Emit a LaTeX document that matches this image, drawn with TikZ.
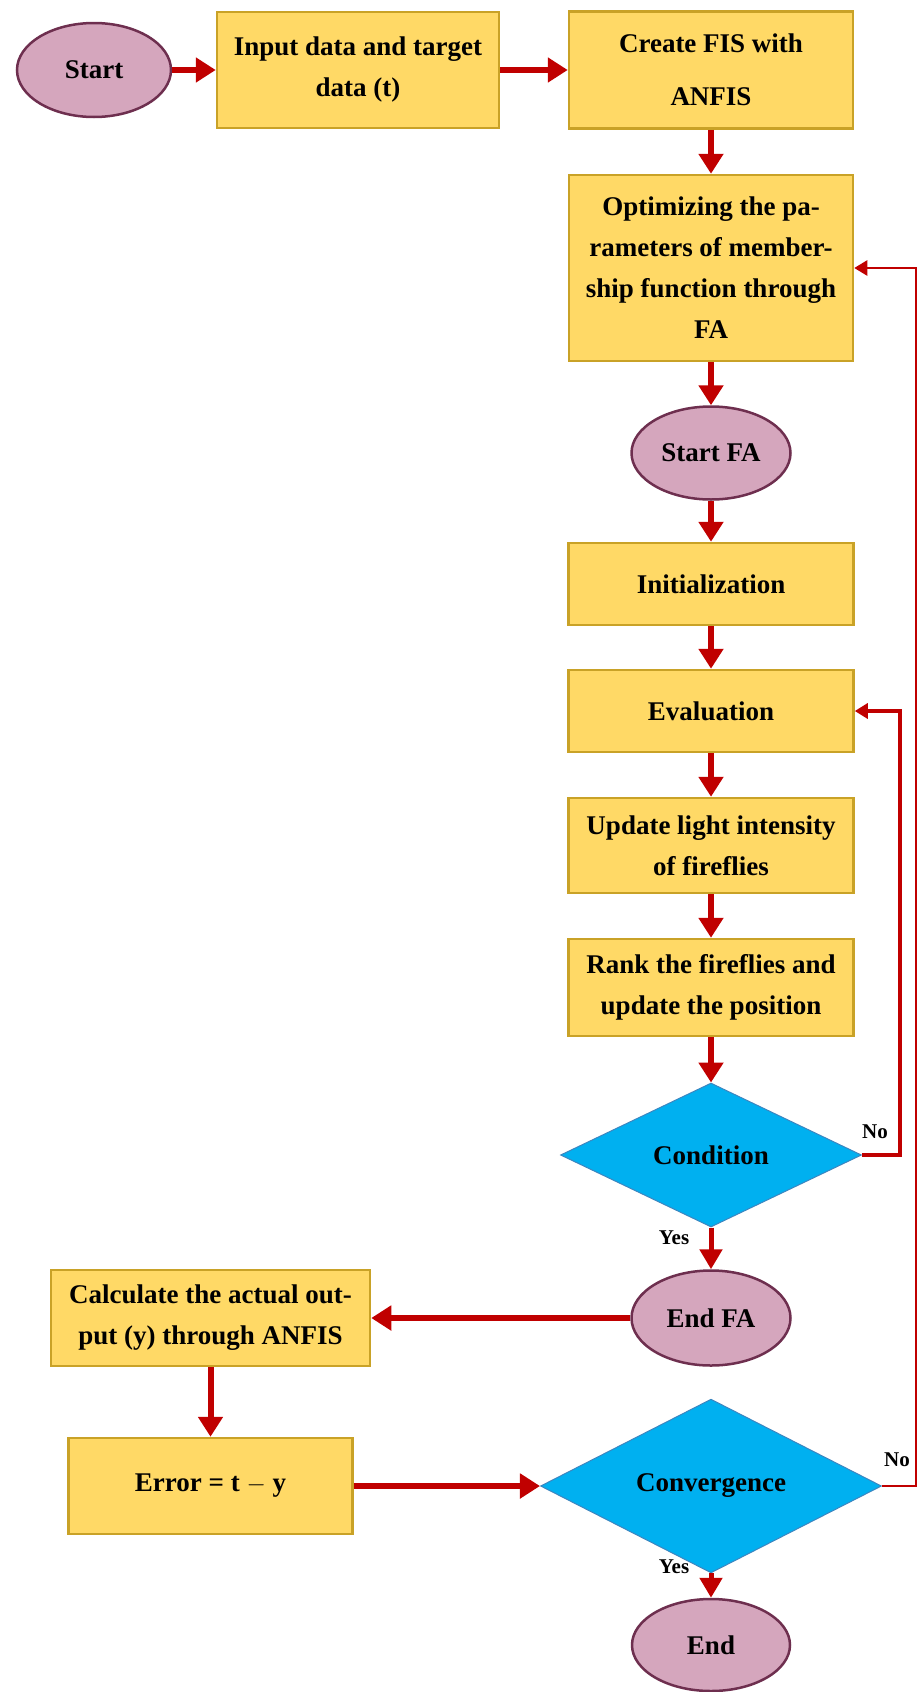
\documentclass[tikz,border=0pt]{standalone}
\usepackage{fontspec}
\setmainfont{Liberation Serif}
\usetikzlibrary{shapes.geometric,arrows.meta}
\definecolor{boxfill}{HTML}{FFD966}
\definecolor{boxdraw}{HTML}{C9A227}
\definecolor{ellfill}{HTML}{D5A6BD}
\definecolor{elldraw}{HTML}{6E2F4F}
\definecolor{diafill}{HTML}{00B0F0}
\definecolor{diadraw}{HTML}{3C86C0}
\definecolor{arr}{HTML}{C00000}
\tikzset{
  txt/.style={font=\fontsize{27}{41}\selectfont\bfseries, align=center, text=black},
  procbox/.style={txt, rectangle, fill=boxfill, draw=boxdraw, line width=2.5pt, inner sep=2pt},
  term/.style={txt, ellipse, fill=ellfill, draw=elldraw, line width=2.5pt, inner sep=0pt},
  decide/.style={txt, diamond, fill=diafill, draw=diadraw, line width=1pt, inner sep=0pt},
  mainarrow/.style={draw=arr, line width=6pt, -{Triangle[length=20pt,width=24pt]}},
  backarrow/.style={draw=arr, line width=#1, -{Triangle[length=13pt,width=15pt]}},
  lbl/.style={font=\fontsize{21}{24}\selectfont\bfseries, text=black, inner sep=0pt}
}
\begin{document}
\begin{tikzpicture}[x=1pt,y=-1pt]
\useasboundingbox (0,0) rectangle (919,1692);
\node[term, minimum width=154pt, minimum height=94pt] (start) at (94,70) {Start};
\node[procbox, minimum width=282pt, minimum height=116pt] (input) at (358,70) {Input data and target\\data (t)};
\node[procbox, minimum width=284pt, minimum height=117pt, font=\fontsize{27}{53}\selectfont\bfseries] (fis) at (711,70) {Create FIS with\\ANFIS};
\node[procbox, minimum width=284pt, minimum height=186pt] (opt) at (711,268) {Optimizing the pa-\\rameters of member-\\ship function through\\FA};
\node[term, minimum width=159pt, minimum height=93pt] (sfa) at (711,453) {Start FA};
\node[procbox, minimum width=285pt, minimum height=82pt] (init) at (711,584) {Initialization};
\node[procbox, minimum width=285pt, minimum height=82pt] (eval) at (711,711) {Evaluation};
\node[procbox, minimum width=285pt, minimum height=95pt] (upd) at (711,845.5) {Update light intensity\\of fireflies};
\node[procbox, minimum width=285pt, minimum height=97pt] (rank) at (711,987.5) {Rank the fireflies and\\update the position};
\node[decide, minimum width=301pt, minimum height=144pt] (cond) at (711,1155) {Condition};
\node[term, minimum width=159pt, minimum height=95pt] (efa) at (711,1318) {End FA};
\node[procbox, minimum width=319pt, minimum height=96pt] (calc) at (210.5,1318) {Calculate the actual out-\\put (y) through ANFIS};
\node[procbox, minimum width=284pt, minimum height=96pt] (err) at (210.5,1486) {Error = t $-$ y};
\node[decide, minimum width=341pt, minimum height=144pt] (conv) at (711,1486) {Convergence};
\node[term, minimum width=158pt, minimum height=92pt] (end) at (711,1645) {End};

\coordinate (c1) at (900,1155);
\coordinate (c2) at (900,711);
\coordinate (v1) at (916,1486);
\coordinate (v2) at (916,268);

\draw[mainarrow] (start) -- (input);
\draw[mainarrow] (input) -- (fis);
\draw[mainarrow] (fis) -- (opt);
\draw[mainarrow] (opt) -- (sfa);
\draw[mainarrow] (sfa) -- (init);
\draw[mainarrow] (init) -- (eval);
\draw[mainarrow] (eval) -- (upd);
\draw[mainarrow] (upd) -- (rank);
\draw[mainarrow] (rank) -- (cond);
\draw[draw=arr, line width=5pt, -{Triangle[length=20pt,width=22pt]}] (cond) -- (efa);
\draw[mainarrow] (efa) -- (calc);
\draw[mainarrow] (calc) -- (err);
\draw[mainarrow] (err) -- (conv);
\draw[draw=arr, line width=5pt, -{Triangle[length=20pt,width=22pt]}] (conv) -- (end);
\draw[backarrow=4pt] (cond.east) -- (c1) -- (c2) -- (eval.east);
\draw[backarrow=2.5pt] (conv.east) -- (v1) -- (v2) -- (opt.east);

\node[lbl] (no1) at (875,1132) {No};
\node[lbl] (yes1) at (674,1238) {Yes};
\node[lbl] (no2) at (897,1460) {No};
\node[lbl] (yes2) at (674,1567) {Yes};
\end{tikzpicture}
\end{document}
